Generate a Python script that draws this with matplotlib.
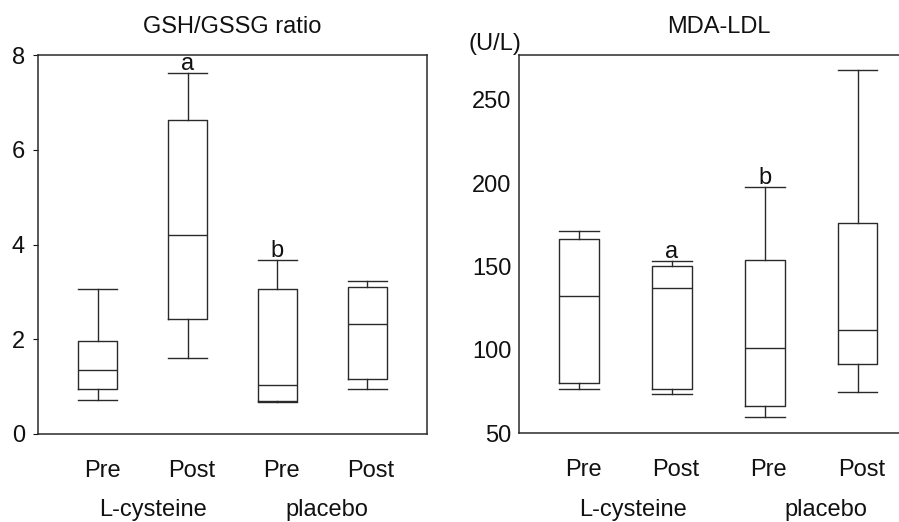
import matplotlib
matplotlib.use("Agg")
import matplotlib.pyplot as plt
from matplotlib.transforms import ScaledTranslation

plt.rcParams['font.family'] = ['Liberation Sans', 'DejaVu Sans']

# ---- data ----
tick_labels = ["Pre", "Post", "Pre", "Post"]
groups = ["L-cysteine", "placebo"]

gsh_title = "GSH/GSSG ratio"
gsh_whislo = [0.72, 1.60, 0.67, 0.95]
gsh_q1 = [0.95, 2.43, 0.69, 1.16]
gsh_med = [1.35, 4.21, 1.03, 2.33]
gsh_q3 = [1.96, 6.62, 3.07, 3.11]
gsh_whishi = [3.06, 7.62, 3.67, 3.23]
gsh_letters = {1: "a", 2: "b"}

mda_title = "MDA-LDL"
mda_unit = "(U/L)"
mda_whislo = [76.6, 73.4, 59.6, 74.6]
mda_q1 = [80.4, 76.4, 66.6, 91.6]
mda_med = [132.4, 137.0, 101.0, 111.8]
mda_q3 = [166.8, 150.6, 154.2, 176.4]
mda_whishi = [171.2, 153.4, 197.8, 267.8]
mda_letters = {1: "a", 2: "b"}

W, H = 899, 522
FS = 17
LC = "#2a2a2a"

fig = plt.figure(figsize=(W / 100, H / 100), dpi=100)


def px_axes(l, t, r, b):
    return fig.add_axes([l / W, 1 - b / H, (r - l) / W, (b - t) / H])


def make_stats(wl, q1, md, q3, wh):
    return [dict(whislo=a, q1=b, med=c, q3=d, whishi=e, fliers=[])
            for a, b, c, d, e in zip(wl, q1, md, q3, wh)]


def draw(ax, stats, width, letters, whishi):
    pos = list(range(1, len(stats) + 1))
    lp = dict(color=LC, linewidth=1.0)
    ax.bxp(stats, positions=pos, widths=width, capwidths=width,
           showfliers=False, boxprops=lp, whiskerprops=lp, capprops=lp,
           medianprops=lp, manage_ticks=False)
    for i, s in letters.items():
        ax.annotate(s, (pos[i], whishi[i]), xytext=(0, 2.5),
                    textcoords='offset points', ha='center', va='baseline',
                    fontsize=FS, color="#111")
    ax.set_xticks(pos)
    ax.set_xticklabels(tick_labels, fontsize=FS)
    ax.tick_params(axis='x', length=0, pad=18.5, colors="#111")
    off = ScaledTranslation(4 / 100, 0, fig.dpi_scale_trans)
    for lbl in ax.get_xticklabels():
        lbl.set_transform(lbl.get_transform() + off)
    for sp in ax.spines.values():
        sp.set_color(LC)
        sp.set_linewidth(1.1)


# ---- left panel ----
ax1 = px_axes(38, 55, 427, 434)
draw(ax1, make_stats(gsh_whislo, gsh_q1, gsh_med, gsh_q3, gsh_whishi),
     0.435, gsh_letters, gsh_whishi)
ax1.set_xlim(0.331, 4.669)
ax1.set_ylim(0, 8)
ax1.set_yticks([0, 2, 4, 6, 8])
ax1.tick_params(axis='y', length=3.6, width=0.8, pad=5.8, labelsize=FS,
                colors="#111")
ax1.set_title(gsh_title, fontsize=FS, pad=15.6, color="#111")
ax1.text(1.617, -0.2164, groups[0], transform=ax1.get_xaxis_transform(),
         ha='center', va='baseline', fontsize=FS, color="#111")
ax1.text(3.55, -0.2164, groups[1], transform=ax1.get_xaxis_transform(),
         ha='center', va='baseline', fontsize=FS, color="#111")

# ---- right panel ----
ax2 = px_axes(519.3, 55, 917.5, 433.3)
draw(ax2, make_stats(mda_whislo, mda_q1, mda_med, mda_q3, mda_whishi),
     0.425, mda_letters, mda_whishi)
ax2.set_xlim(0.357, 4.644)
ax2.set_ylim(50, 277)
ax2.set_yticks([50, 100, 150, 200, 250])
ax2.tick_params(axis='y', length=0, pad=5.5, labelsize=FS, colors="#111")
ax2.set_title(mda_title, fontsize=FS, pad=15.6, color="#111")
ax2.text(1.578, -0.2186, groups[0], transform=ax2.get_xaxis_transform(),
         ha='center', va='baseline', fontsize=FS, color="#111")
ax2.text(3.657, -0.2186, groups[1], transform=ax2.get_xaxis_transform(),
         ha='center', va='baseline', fontsize=FS, color="#111")
fig.text(521 / W, 1 - 50 / H, mda_unit, ha='right', va='baseline',
         fontsize=FS, color="#111")

fig.savefig("out.png", dpi=100)
